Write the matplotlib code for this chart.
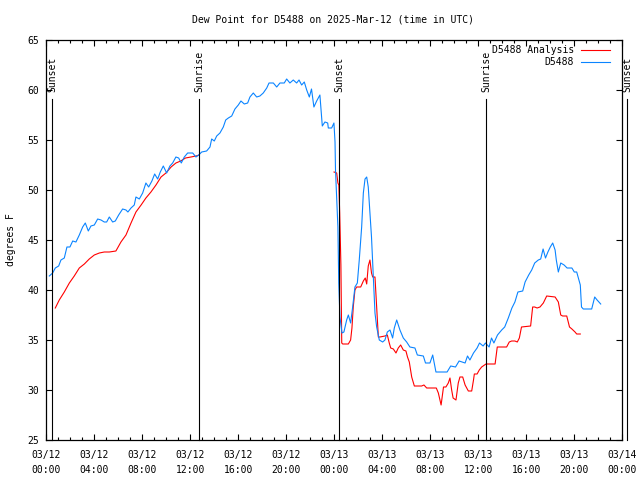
import matplotlib
matplotlib.use("Agg")
import matplotlib.pyplot as plt
from matplotlib.lines import Line2D
from matplotlib.ticker import MultipleLocator

plt.rcParams['font.family'] = ['DejaVu Sans Mono']

# hours since 2025-03-12 00:00 UTC
obs_t = [0.25, 0.53, 0.75, 1.03, 1.22, 1.5, 1.72, 1.97, 2.2, 2.47, 2.75, 3.03, 3.25, 3.5, 3.72,
         4.0, 4.28, 4.56, 4.83, 5.03, 5.25, 5.53, 5.75, 6.03, 6.36, 6.64, 6.8, 7.06, 7.33, 7.47,
         7.75, 8.03, 8.3, 8.53, 8.8, 9.03, 9.28, 9.5, 9.75, 10.03, 10.3, 10.53, 10.8, 11.03, 11.25,
         11.5, 11.78, 12.2, 12.47, 12.7, 12.95, 13.36, 13.64, 13.78, 14.0, 14.2, 14.47, 14.75, 14.95,
         15.17, 15.45, 15.72, 16.0, 16.22, 16.5, 16.78, 16.97, 17.25, 17.53, 17.8, 18.08, 18.37,
         18.56, 18.92, 19.2, 19.47, 19.83, 20.03, 20.3, 20.58, 20.86, 21.06, 21.28, 21.5, 21.7,
         21.92, 22.1, 22.3, 22.53, 22.8, 23.0, 23.22, 23.45, 23.5, 23.78, 23.97, 24.06, 24.1, 24.2,
         24.3, 24.37, 24.47, 24.64, 24.8, 25.03, 25.17, 25.36, 25.53, 25.72, 25.92, 26.08, 26.28,
         26.42, 26.56, 26.7, 26.83, 26.97, 27.1, 27.25, 27.39, 27.53, 27.75, 28.03, 28.22, 28.42,
         28.64, 28.86, 29.0, 29.2, 29.47, 29.75, 30.03, 30.3, 30.72, 30.92, 31.42, 31.6, 31.97,
         32.2, 32.47, 32.95, 33.4, 33.7, 34.1, 34.4, 34.9, 35.1, 35.3, 35.6, 35.9, 36.1, 36.4,
         36.6, 36.9, 37.1, 37.3, 37.6, 37.95, 38.2, 38.5, 38.8, 39.05, 39.3, 39.7, 39.9, 40.2,
         40.45, 40.7, 41.0, 41.2, 41.4, 41.6, 41.8, 42.0, 42.2, 42.4, 42.5, 42.67, 42.87, 43.15,
         43.4, 43.8, 44.0, 44.2, 44.5, 44.6, 44.75, 45.45, 45.7, 45.9, 46.2]
obs_v = [41.4, 41.7, 42.2, 42.4, 43.0, 43.2, 44.3, 44.3, 44.9, 44.8, 45.5, 46.3, 46.7, 45.9, 46.4,
         46.5, 47.1, 47.0, 46.8, 46.8, 47.3, 46.8, 46.9, 47.5, 48.1, 48.0, 47.8, 48.2, 48.5, 49.3,
         49.1, 49.7, 50.7, 50.3, 50.9, 51.6, 51.1, 51.8, 52.4, 51.7, 52.4, 52.7, 53.3, 53.2, 52.7,
         53.3, 53.7, 53.7, 53.3, 53.5, 53.8, 53.9, 54.3, 55.1, 54.9, 55.4, 55.7, 56.3, 57.0,
         57.2, 57.4, 58.1, 58.5, 58.9, 58.6, 58.7, 59.3, 59.7, 59.3, 59.4, 59.7, 60.2,
         60.7, 60.7, 60.3, 60.7, 60.7, 61.1, 60.7, 61.0, 60.7, 61.0, 60.5, 60.8, 60.0,
         59.3, 60.1, 58.3, 58.9, 59.5, 56.4, 56.8, 56.7, 56.2, 56.2, 56.7, 54.8, 52.0, 49.2,
         46.3, 40.7, 37.3, 35.7, 35.8, 37.0, 37.5, 36.7, 38.3, 40.3, 40.7, 43.0, 46.3,
         49.7, 51.1, 51.3, 50.3, 47.7, 45.3, 41.3, 37.7, 36.3, 35.0, 34.8, 35.0, 35.8,
         36.0, 35.2, 36.2, 37.0, 36.0, 35.2, 34.8, 34.3, 34.2, 33.5, 33.4, 32.7, 32.7,
         33.5, 31.8, 31.8, 31.8, 32.4, 32.3, 32.9, 32.7, 33.4, 33.0, 33.7, 34.2, 34.7, 34.4,
         34.7, 34.3, 35.2, 34.7, 35.5, 36.0, 36.3, 37.2, 38.2, 38.8, 39.8, 39.9, 40.8, 41.5,
         42.0, 42.7, 43.0, 43.1, 44.1, 43.2, 43.8, 44.3, 44.7, 44.0, 43.0, 41.8, 42.7, 42.5,
         42.2, 42.2, 41.8, 41.8, 40.5, 38.3, 38.1, 38.1, 39.3, 39.0, 38.6]

# analysis series, two separate segments
ana1_t = [0.75, 1.08, 1.5, 1.92, 2.33, 2.75, 3.17, 3.58, 4.0, 4.42, 4.83, 5.25, 5.8, 6.22, 6.64,
          7.06, 7.47, 7.9, 8.3, 8.72, 9.14, 9.56, 9.97, 10.4, 10.8, 11.2, 11.6, 12.05, 12.47, 12.75]
ana1_v = [38.2, 39.0, 39.8, 40.7, 41.4, 42.2, 42.6, 43.1, 43.5, 43.7, 43.8, 43.8, 43.9, 44.8, 45.5,
          46.7, 47.8, 48.5, 49.2, 49.8, 50.5, 51.3, 51.7, 52.3, 52.7, 52.9, 53.2, 53.3, 53.4, 53.5]
ana2_t = [23.98, 24.2, 24.3, 24.38, 24.45, 24.55, 24.62, 24.7, 25.17, 25.36, 25.47, 25.58, 25.72,
          25.86, 26.2, 26.42, 26.58, 26.7, 26.83, 26.97, 27.1, 27.2, 27.39, 27.53, 27.67, 27.8,
          28.22, 28.42, 28.58, 28.7, 28.92, 29.14, 29.33, 29.53, 29.75, 29.97, 30.1, 30.25, 30.45,
          30.67, 31.28, 31.47, 31.7, 32.5, 32.67, 32.9, 33.1, 33.3, 33.5, 33.64, 33.78, 33.9,
          34.14, 34.33, 34.47, 34.7, 34.9, 35.17, 35.45, 35.6, 35.67, 35.9, 36.08, 36.28, 36.64,
          36.83, 37.4, 37.58, 38.36, 38.58, 38.78, 39.05, 39.25, 39.42, 39.6, 40.36, 40.53,
          40.7, 40.9, 41.14, 41.42, 41.7, 42.4, 42.67, 42.87, 43.03, 43.37, 43.6, 43.8, 44.06,
          44.2, 44.5]
ana2_v = [51.8, 51.7, 50.7, 50.5, 47.7, 42.5, 34.7, 34.6, 34.6, 35.0, 36.2, 38.3, 40.0,
          40.3, 40.3, 40.9, 41.2, 40.6, 42.4, 43.0, 41.7, 41.3, 41.3, 38.3, 35.3, 35.3,
          35.4, 35.5, 34.7, 34.2, 34.1, 33.7, 34.2, 34.5, 34.0, 33.9, 33.3, 32.8, 31.3,
          30.4, 30.4, 30.5, 30.2, 30.2, 29.7, 28.5, 30.3, 30.3, 30.7, 31.2, 30.0, 29.2,
          29.0, 30.7, 31.3, 31.3, 30.5, 29.9, 29.9, 31.0, 31.6, 31.6, 32.0, 32.3, 32.6,
          32.6, 32.6, 34.3, 34.3, 34.8, 34.9, 34.9, 34.8, 35.2, 36.3, 36.4, 38.3,
          38.3, 38.2, 38.3, 38.7, 39.4, 39.3, 38.8, 37.5, 37.4, 37.4, 36.3, 36.1, 35.8,
          35.6, 35.6]

sun_t = [0.5, 12.75, 24.4, 36.67, 48.4]
sun_labels = ["Sunset", "Sunrise", "Sunset", "Sunrise", "Sunset"]

xtick_labels = ["03/12\n00:00", "03/12\n04:00", "03/12\n08:00", "03/12\n12:00", "03/12\n16:00",
                "03/12\n20:00", "03/13\n00:00", "03/13\n04:00", "03/13\n08:00", "03/13\n12:00",
                "03/13\n16:00", "03/13\n20:00", "03/14\n00:00"]

RED = '#ff0000'
BLUE = '#0a84ff'
FS = 7

fig = plt.figure(figsize=(6.4, 4.8), dpi=100)
ax = fig.add_axes([46.3/640, 40/480, 576/640, 400/480])
ax.set_xlim(0, 48)
ax.set_ylim(25, 65)

ax.plot(ana1_t, ana1_v, color=RED, lw=0.8)
ax.plot(ana2_t, ana2_v, color=RED, lw=0.8)
ax.plot(obs_t, obs_v, color=BLUE, lw=0.8)

for t, lab in zip(sun_t, sun_labels):
    ax.plot([t, t], [25, 59.1], color='black', lw=0.8, clip_on=False)
    ax.text(t, 59.8, lab, rotation=90, ha='center', va='bottom', fontsize=FS, clip_on=False)

ax.set_xticks(range(0, 49, 4))
ax.set_xticklabels(xtick_labels, fontsize=FS, linespacing=1.6)
ax.xaxis.set_minor_locator(MultipleLocator(1))
ax.set_yticks(range(25, 66, 5))
ax.set_yticklabels([str(v) for v in range(25, 66, 5)], fontsize=FS)
ax.tick_params(which='both', direction='in', top=True, right=True, width=0.8)
ax.tick_params(axis='x', which='major', length=4.3, pad=7)
ax.tick_params(axis='y', which='major', length=4.3, pad=5)
ax.tick_params(which='minor', length=2.2)
for s in ax.spines.values():
    s.set_linewidth(0.9)

ax.set_ylabel("degrees F", fontsize=FS, labelpad=8)
fig.text(333/640, 1-20/480, "Dew Point for D5488 on 2025-Mar-12 (time in UTC)",
         ha='center', va='center', fontsize=FS)

# legend
for i, (lab, col) in enumerate([("D5488 Analysis", RED), ("D5488", BLUE)]):
    yp = 1 - (50 + 12*i)/480
    fig.text(574/640, yp, lab, ha='right', va='center', fontsize=FS)
    fig.add_artist(Line2D([581/640, 610/640], [yp, yp], color=col, lw=0.8,
                          transform=fig.transFigure))

fig.savefig("out.png", dpi=100)
